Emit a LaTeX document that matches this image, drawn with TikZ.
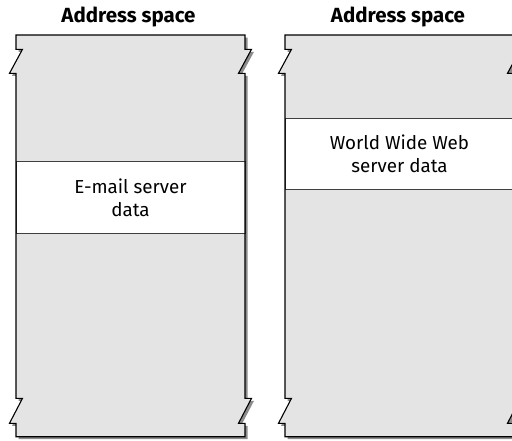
\documentclass[tikz,border=0pt]{standalone}
\usepackage{fontspec}
\setmainfont{Fira Sans}
\definecolor{panelgray}{HTML}{E4E4E4}
\definecolor{shadowgray}{HTML}{8C8C8C}
\definecolor{bandline}{HTML}{404040}
\newcommand\panelshape{(0,0) -- (229,0) -- (229,14.3) -- (235.5,14.3) -- (222.5,38.3) -- (229,38.3) -- (229,363.3) -- (235.5,363.3) -- (222.5,388.3) -- (229,388.3) -- (229,401.7) -- (0,401.7) -- (0,388.3) -- (-6.5,388.3) -- (6.5,363.3) -- (0,363.3) -- (0,38.3) -- (-6.5,38.3) -- (6.5,14.3) -- (0,14.3) -- cycle}
\begin{document}
\begin{tikzpicture}[x=1pt,y=-1pt,
  shadowfill/.style={fill=shadowgray},
  panelbody/.style={fill=panelgray},
  paneledge/.style={draw=black, line width=1.1pt, line join=miter},
  band/.style={fill=white, draw=bandline, line width=0.9pt, minimum width=229pt, inner sep=0pt, align=center, font=\fontsize{18.8}{23}\selectfont},
  titletext/.style={font=\fontsize{20.5}{22}\selectfont\bfseries}]
\useasboundingbox (0,0) rectangle (512,440);
% left panel
\begin{scope}[shift={(16,35)}]
  \path[shadowfill, shift={(2.5,2.5)}] \panelshape;
  \path[panelbody] \panelshape;
\end{scope}
\node[band, minimum height=71.6pt] (b1) at (130.5,197.5) {E-mail server\\data};
\begin{scope}[shift={(16,35)}]
  \path[paneledge] \panelshape;
\end{scope}
% right panel
\begin{scope}[shift={(285,35)}]
  \path[shadowfill, shift={(2.5,2.5)}] \panelshape;
  \path[panelbody] \panelshape;
\end{scope}
\node[band, minimum height=71pt] (b2) at (399.5,153.8) {World Wide Web\\server data};
\begin{scope}[shift={(285,35)}]
  \path[paneledge] \panelshape;
\end{scope}
% titles
\node[titletext] (t1) at (128.5,17) {Address space};
\node[titletext] (t2) at (398,17) {Address space};
\end{tikzpicture}
\end{document}
